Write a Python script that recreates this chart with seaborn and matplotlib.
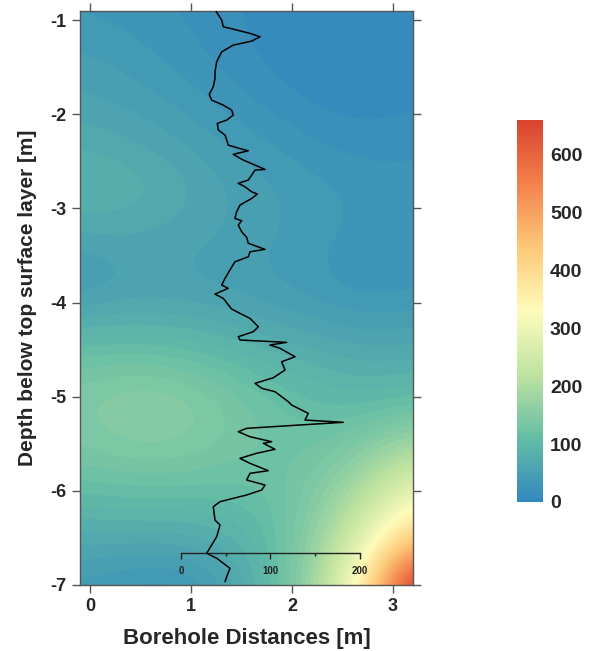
import numpy as np
import matplotlib
matplotlib.use('Agg')
import matplotlib.pyplot as plt
from matplotlib.colors import BoundaryNorm, Normalize
from matplotlib.cm import ScalarMappable
from matplotlib.ticker import FixedLocator
import seaborn as sns

# interpolated field (rows = depth, cols = distance)
grid_x = [-0.1, 0.371, 0.843, 1.314, 1.786, 2.257, 2.729, 3.2]
grid_depth = [-0.9, -1.37, -1.84, -2.31, -2.78, -3.25, -3.72, -4.18,
              -4.65, -5.12, -5.59, -6.06, -6.53, -7.0]
field_values = [
    [38, 36, 30, 22, 16, 13, 12, 14],
    [52, 44, 36, 26, 16, 11, 10, 12],
    [62, 57, 47, 36, 25, 16, 14, 18],
    [78, 72, 62, 50, 40, 30, 24, 26],
    [95, 90, 78, 62, 52, 44, 37, 36],
    [72, 72, 67, 60, 52, 44, 37, 36],
    [42, 57, 57, 54, 47, 40, 27, 32],
    [78, 82, 80, 75, 66, 58, 52, 55],
    [130, 135, 130, 115, 100, 90, 80, 82],
    [150, 165, 165, 145, 125, 112, 108, 120],
    [138, 148, 148, 138, 128, 130, 160, 205],
    [108, 112, 112, 112, 118, 150, 215, 310],
    [72, 72, 72, 82, 108, 170, 290, 440],
    [45, 35, 30, 55, 100, 190, 370, 720],
]

# borehole log drawn on top (depth in m, value on 0-200 scale)
profile_depth = [
    -0.905, -1.000, -1.071, -1.096, -1.141, -1.177, -1.223, -1.266, -1.337, -1.443,
    -1.549, -1.619, -1.708, -1.789, -1.850, -1.903, -1.956, -2.009, -2.062, -2.097,
    -2.168, -2.221, -2.274, -2.328, -2.370, -2.388, -2.426, -2.487, -2.540, -2.586,
    -2.593, -2.646, -2.699, -2.734, -2.770, -2.824, -2.848, -2.894, -2.965, -3.036,
    -3.106, -3.131, -3.177, -3.248, -3.308, -3.371, -3.435, -3.461, -3.514, -3.567,
    -3.655, -3.743, -3.814, -3.849, -3.910, -3.956, -4.069, -4.115, -4.168, -4.257,
    -4.310, -4.363, -4.398, -4.423, -4.451, -4.486, -4.576, -4.629, -4.717, -4.752,
    -4.799, -4.858, -4.911, -4.947, -5.053, -5.089, -5.177, -5.248, -5.272, -5.336,
    -5.372, -5.425, -5.478, -5.495, -5.559, -5.601, -5.655, -5.708, -5.786, -5.814,
    -5.885, -5.938, -5.991, -6.044, -6.115, -6.169, -6.310, -6.363, -6.487, -6.575,
    -6.663, -6.716, -6.823, -6.912, -6.965,
]
profile_value = [
    39.1, 45.5, 47.3, 58.4, 77.1, 88.3, 79.0, 58.4, 45.5, 39.9,
    38.0, 38.0, 36.1, 31.6, 34.3, 47.3, 56.6, 58.4, 51.1, 40.6,
    41.7, 49.2, 51.1, 52.8, 67.8, 75.2, 58.4, 69.6, 82.7, 93.9,
    82.7, 79.0, 75.2, 64.0, 71.5, 79.0, 85.3, 79.0, 65.9, 62.2,
    60.3, 67.8, 64.0, 67.8, 73.4, 75.2, 93.9, 77.1, 75.2, 60.3,
    54.7, 49.2, 45.5, 52.8, 38.0, 47.3, 56.6, 65.9, 77.1, 86.4,
    80.8, 64.0, 65.9, 118.1, 99.4, 110.6, 127.4, 112.5, 116.2, 110.6,
    103.1, 82.7, 90.2, 105.0, 119.9, 123.7, 142.2, 138.5, 181.3, 73.4,
    64.0, 77.1, 101.3, 92.0, 105.0, 84.6, 65.9, 77.1, 97.5, 77.1,
    73.4, 93.9, 90.2, 73.4, 43.6, 36.1, 38.0, 43.6, 39.9, 34.3,
    28.7, 39.9, 54.7, 51.1, 49.2,
]

cbar_ticks = [0, 100, 200, 300, 400, 500, 600]
vmax = 660

sns.set_theme(style='ticks')
plt.rcParams['font.family'] = ['Liberation Sans', 'DejaVu Sans']
plt.rcParams['font.weight'] = 'bold'
plt.rcParams['axes.unicode_minus'] = False

cmap = sns.blend_palette(['#3288bd', '#64bda6', '#bfe3a0', '#fefcbb',
                          '#fdc878', '#f4824c', '#d8432f'], as_cmap=True)

fig = plt.figure(figsize=(5.9, 6.51), dpi=100)
rect = [0.1356, 0.1014, 0.5644, 0.8822]
ax = fig.add_axes(rect)

# filled field, smoothed by the image resampler and split into bands
levels = np.arange(0, vmax + 10, 10)
dx = (grid_x[1] - grid_x[0]) / 2
dy = (grid_depth[0] - grid_depth[1]) / 2
ax.imshow(np.array(field_values), cmap=cmap, norm=BoundaryNorm(levels, cmap.N, clip=True),
          extent=(grid_x[0] - dx, grid_x[-1] + dx, grid_depth[-1] - dy, grid_depth[0] + dy),
          origin='upper', aspect='auto', interpolation='bicubic',
          interpolation_stage='data')
ax.set_xlim(-0.1, 3.2)
ax.set_ylim(-7, -0.9)
ax.set_xticks([0, 1, 2, 3])
ax.set_yticks([-1, -2, -3, -4, -5, -6, -7])
ax.tick_params(direction='out', length=5.5, width=1, color='#555555',
               labelsize=13, pad=4, top=True, right=True)
for s in ax.spines.values():
    s.set_color('#555555')
    s.set_linewidth(1)
ax.set_xlabel('Borehole Distances [m]', fontsize=16, fontweight='bold', labelpad=9.5)
ax.set_ylabel('Depth below top surface layer [m]', fontsize=15, fontweight='bold')
ax.yaxis.set_label_coords(-0.13, 0.5)

# profile on its own 0-200 scale
axp = fig.add_axes(rect)
axp.patch.set_alpha(0)
sns.lineplot(x=profile_value, y=profile_depth, sort=False, estimator=None,
             orient='y', color='black', linewidth=1.1, ax=axp)
axp.set_xlim(-112.8, 259.2)
axp.set_ylim(-7, -0.9)
for side in ['top', 'left', 'right']:
    axp.spines[side].set_visible(False)
axp.spines['bottom'].set_position(('data', -6.657))
axp.spines['bottom'].set_bounds(0, 200)
axp.spines['bottom'].set_color('#222222')
axp.spines['bottom'].set_linewidth(1)
axp.yaxis.set_visible(False)
axp.set_xlabel('')
axp.set_xticks([0, 100, 200])
axp.xaxis.set_minor_locator(FixedLocator([50, 150]))
axp.tick_params(axis='x', which='major', length=4.5, width=1, color='#222222',
                labelsize=7, pad=5, labelcolor='#222222')
axp.tick_params(axis='x', which='minor', length=2.5, width=1, color='#222222')

# colorbar
cax = fig.add_axes([0.8763, 0.2289, 0.0441, 0.5868])
cb = fig.colorbar(ScalarMappable(norm=Normalize(0, vmax), cmap=cmap), cax=cax)
cb.set_ticks(cbar_ticks)
cb.outline.set_visible(False)
cax.tick_params(length=0, labelsize=14, pad=5)

fig.savefig('out.png', dpi=100)
